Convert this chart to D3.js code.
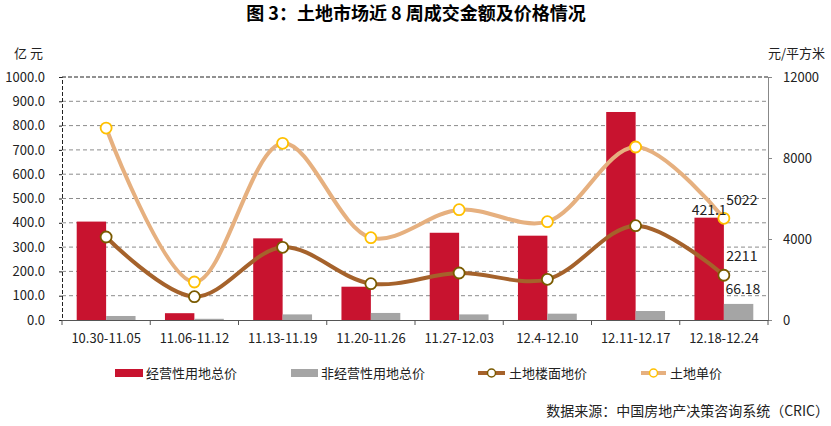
<!DOCTYPE html>
<html><head><meta charset="utf-8">
<script src="https://cdn.jsdelivr.net/npm/d3@7"></script>
<style>
body{margin:0;background:#fff;}
svg text{font-family:"Noto Sans CJK SC","Noto Sans",sans-serif;fill:#222;}
</style></head>
<body><svg id="c" width="831" height="426"></svg>
<script>
const categories = ["10.30-11.05","11.06-11.12","11.13-11.19","11.20-11.26","11.27-12.03","12.4-12.10","12.11-12.17","12.18-12.24"];
const commercialTotal = [405, 28, 336, 137, 359, 347, 856, 421.1];
const nonCommercialTotal = [16.5, 5, 23, 29, 23, 26, 37, 66.18];
const floorPrice = [4099, 1152, 3588, 1794, 2321, 2008, 4658, 2211];
const unitPrice = [9480, 1876, 8725, 4065, 5447, 4855, 8543, 5022];
const leftTicks = [0,100,200,300,400,500,600,700,800,900,1000];
const rightTicks = [0,4000,8000,12000];
const seriesNames = ["经营性用地总价","非经营性用地总价","土地楼面地价","土地单价"];

const svg = d3.select("#c");
const L=62, R=768, T=77, B=320;
const x = d3.scaleBand().domain(categories).range([L,R]);
const x1 = d3.scaleBand().domain(["a","b"]).range([0,x.bandwidth()]).paddingOuter(0.5).paddingInner(0);
const yL = d3.scaleLinear().domain([0,1000]).range([B,T]);
const yR = d3.scaleLinear().domain([0,12000]).range([B,T]);

// title
svg.append("text").attr("x",416).attr("y",20).attr("text-anchor","middle")
  .style("font-size","18px").style("font-weight","bold").style("fill","#000")
  .text("图 3：土地市场近 8 周成交金额及价格情况");

// gridlines
svg.append("g").selectAll("line").data(leftTicks.filter(d=>d>0&&d<1000)).join("line")
  .attr("x1",L).attr("x2",R).attr("y1",d=>yL(d)).attr("y2",d=>yL(d))
  .attr("stroke","#8c8c8c").attr("stroke-dasharray","4,3").attr("stroke-width",1);
svg.append("line").attr("x1",L).attr("x2",R).attr("y1",yL(1000)).attr("y2",yL(1000))
  .attr("stroke","#222").attr("stroke-dasharray","4,2");

// left axis
const gL = svg.append("g").attr("transform",`translate(${L},0)`)
  .call(d3.axisLeft(yL).tickValues(leftTicks).tickFormat(d3.format(".1f")).tickSize(3).tickPadding(14));
gL.select(".domain").attr("stroke","#222").attr("stroke-dasharray","4,2");
gL.selectAll(".tick line").attr("stroke","#222");
gL.selectAll("text").style("font-size","13px").style("font-family","'Noto Sans CJK SC',sans-serif").attr("fill","#222");

// right axis
const gR = svg.append("g").attr("transform",`translate(${R},0)`)
  .call(d3.axisRight(yR).tickValues(rightTicks).tickFormat(d3.format("d")).tickSize(4).tickPadding(11));
gR.select(".domain").attr("stroke","#888");
gR.selectAll(".tick line").attr("stroke","#888");
gR.selectAll("text").style("font-size","13px").style("font-family","'Noto Sans CJK SC',sans-serif").attr("fill","#222");

// bars
const gb = svg.append("g");
gb.selectAll("rect.c").data(commercialTotal).join("rect")
  .attr("x",(d,i)=>x(categories[i])+x1("a")).attr("width",x1.bandwidth())
  .attr("y",d=>yL(d)).attr("height",d=>B-yL(d)).attr("fill","#C8132F");
gb.selectAll("rect.n").data(nonCommercialTotal).join("rect")
  .attr("x",(d,i)=>x(categories[i])+x1("b")).attr("width",x1.bandwidth())
  .attr("y",d=>yL(d)).attr("height",d=>B-yL(d)).attr("fill","#A5A5A5");

// x axis
const gX = svg.append("g").attr("transform",`translate(0,${B})`)
  .call(d3.axisBottom(x).tickSize(0).tickPadding(14));
gX.select(".domain").attr("stroke","#555");
gX.selectAll("text").style("font-size","13px").style("font-family","'Noto Sans CJK SC',sans-serif").attr("fill","#222");
svg.append("g").selectAll("line").data(categories.concat(["end"])).join("line")
  .attr("x1",(d,i)=>L+i*x.step()).attr("x2",(d,i)=>L+i*x.step())
  .attr("y1",B).attr("y2",B+5).attr("stroke","#555");

// lines
const cx = i=>x(categories[i])+x.bandwidth()/2;
const line = d3.line().x((d,i)=>cx(i)).y(d=>yR(d)).curve(d3.curveCatmullRom.alpha(0.5));
svg.append("path").datum(unitPrice).attr("d",line).attr("fill","none").attr("stroke","#E6B07F").attr("stroke-width",4);
svg.append("path").datum(floorPrice).attr("d",line).attr("fill","none").attr("stroke","#A5622B").attr("stroke-width",4);
svg.append("g").selectAll("circle").data(floorPrice).join("circle")
  .attr("cx",(d,i)=>cx(i)).attr("cy",d=>yR(d)).attr("r",5.5)
  .attr("fill","#fff").attr("stroke","#7A5A00").attr("stroke-width",1.8);
svg.append("g").selectAll("circle").data(unitPrice).join("circle")
  .attr("cx",(d,i)=>cx(i)).attr("cy",d=>yR(d)).attr("r",5.5)
  .attr("fill","#fff").attr("stroke","#FFC000").attr("stroke-width",1.8);

// data labels for last category
const last = categories.length-1;
const lab = (t,xx,yy)=>svg.append("text").attr("x",xx).attr("y",yy).attr("text-anchor","middle")
  .style("font-size","14px").attr("fill","#222").text(t);
lab(commercialTotal[last], x(categories[last])+x1("a")+x1.bandwidth()/2, yL(commercialTotal[last])-3);
lab(unitPrice[last], cx(last)+18, yR(unitPrice[last])-13);
lab(floorPrice[last], cx(last)+18, yR(floorPrice[last])-14);
lab(nonCommercialTotal[last], cx(last)+19, yL(nonCommercialTotal[last])-10);

// axis unit labels
svg.append("text").attr("x",14).attr("y",58).style("font-size","13px").text("亿 元");
svg.append("text").attr("x",768).attr("y",58).style("font-size","13px").text("元/平方米");

// legend
const lg = svg.append("g");
const ly = 373;
lg.append("rect").attr("x",115).attr("y",ly-4).attr("width",28).attr("height",8).attr("fill","#C8132F");
lg.append("text").attr("x",146).attr("y",ly+5).style("font-size","13px").text(seriesNames[0]);
lg.append("rect").attr("x",291).attr("y",ly-4).attr("width",27).attr("height",8).attr("fill","#A5A5A5");
lg.append("text").attr("x",321).attr("y",ly+5).style("font-size","13px").text(seriesNames[1]);
lg.append("line").attr("x1",478).attr("x2",505).attr("y1",ly).attr("y2",ly).attr("stroke","#A5622B").attr("stroke-width",4);
lg.append("circle").attr("cx",491.5).attr("cy",ly).attr("r",4).attr("fill","#fff").attr("stroke","#7A5A00").attr("stroke-width",1.5);
lg.append("text").attr("x",509).attr("y",ly+5).style("font-size","13px").text(seriesNames[2]);
lg.append("line").attr("x1",641).attr("x2",666).attr("y1",ly).attr("y2",ly).attr("stroke","#E6B07F").attr("stroke-width",4);
lg.append("circle").attr("cx",653.5).attr("cy",ly).attr("r",4).attr("fill","#fff").attr("stroke","#FFC000").attr("stroke-width",1.5);
lg.append("text").attr("x",670).attr("y",ly+5).style("font-size","13px").text(seriesNames[3]);

// source
svg.append("text").attr("x",829).attr("y",416).attr("text-anchor","end").style("font-size","14px").text("数据来源：中国房地产决策咨询系统（CRIC）");
</script></body></html>
